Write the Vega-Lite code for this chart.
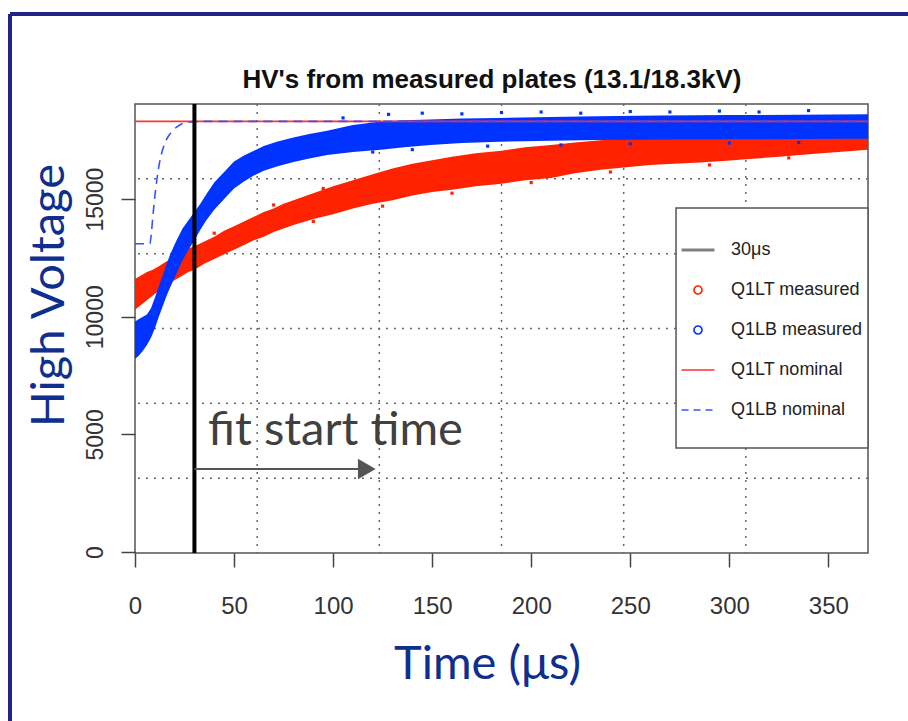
{
  "$schema": "https://vega.github.io/schema/vega-lite/v6.json",
  "width": 733,
  "height": 449,
  "autosize": "none",
  "padding": {"left": 135, "top": 104, "right": 40, "bottom": 168},
  "background": "white",
  "datasets": {
    "red": [
      {"t":0,"lo":10300,"hi":11600,"series":"Q1LT measured"},
      {"t":3,"lo":10500,"hi":11750,"series":"Q1LT measured"},
      {"t":6,"lo":10700,"hi":11900,"series":"Q1LT measured"},
      {"t":9,"lo":10900,"hi":12000,"series":"Q1LT measured"},
      {"t":12,"lo":11100,"hi":12150,"series":"Q1LT measured"},
      {"t":15,"lo":11250,"hi":12300,"series":"Q1LT measured"},
      {"t":18,"lo":11450,"hi":12450,"series":"Q1LT measured"},
      {"t":21,"lo":11600,"hi":12600,"series":"Q1LT measured"},
      {"t":24,"lo":11750,"hi":12750,"series":"Q1LT measured"},
      {"t":27,"lo":11900,"hi":12900,"series":"Q1LT measured"},
      {"t":30,"lo":12000,"hi":13000,"series":"Q1LT measured"},
      {"t":35,"lo":12250,"hi":13200,"series":"Q1LT measured"},
      {"t":40,"lo":12450,"hi":13400,"series":"Q1LT measured"},
      {"t":45,"lo":12650,"hi":13650,"series":"Q1LT measured"},
      {"t":50,"lo":12850,"hi":13850,"series":"Q1LT measured"},
      {"t":55,"lo":13050,"hi":14050,"series":"Q1LT measured"},
      {"t":60,"lo":13250,"hi":14250,"series":"Q1LT measured"},
      {"t":65,"lo":13400,"hi":14450,"series":"Q1LT measured"},
      {"t":70,"lo":13600,"hi":14600,"series":"Q1LT measured"},
      {"t":75,"lo":13750,"hi":14800,"series":"Q1LT measured"},
      {"t":80,"lo":13900,"hi":14950,"series":"Q1LT measured"},
      {"t":90,"lo":14150,"hi":15250,"series":"Q1LT measured"},
      {"t":100,"lo":14350,"hi":15550,"series":"Q1LT measured"},
      {"t":110,"lo":14600,"hi":15800,"series":"Q1LT measured"},
      {"t":120,"lo":14800,"hi":16050,"series":"Q1LT measured"},
      {"t":130,"lo":14950,"hi":16300,"series":"Q1LT measured"},
      {"t":140,"lo":15150,"hi":16500,"series":"Q1LT measured"},
      {"t":150,"lo":15300,"hi":16650,"series":"Q1LT measured"},
      {"t":160,"lo":15400,"hi":16800,"series":"Q1LT measured"},
      {"t":172,"lo":15550,"hi":16950,"series":"Q1LT measured"},
      {"t":185,"lo":15650,"hi":17050,"series":"Q1LT measured"},
      {"t":197,"lo":15800,"hi":17200,"series":"Q1LT measured"},
      {"t":210,"lo":15900,"hi":17300,"series":"Q1LT measured"},
      {"t":222,"lo":16100,"hi":17400,"series":"Q1LT measured"},
      {"t":235,"lo":16250,"hi":17500,"series":"Q1LT measured"},
      {"t":248,"lo":16350,"hi":17600,"series":"Q1LT measured"},
      {"t":260,"lo":16450,"hi":17650,"series":"Q1LT measured"},
      {"t":272,"lo":16500,"hi":17700,"series":"Q1LT measured"},
      {"t":285,"lo":16550,"hi":17700,"series":"Q1LT measured"},
      {"t":297,"lo":16620,"hi":17750,"series":"Q1LT measured"},
      {"t":310,"lo":16700,"hi":17750,"series":"Q1LT measured"},
      {"t":325,"lo":16800,"hi":17800,"series":"Q1LT measured"},
      {"t":340,"lo":16900,"hi":17800,"series":"Q1LT measured"},
      {"t":355,"lo":17000,"hi":17850,"series":"Q1LT measured"},
      {"t":370,"lo":17100,"hi":17850,"series":"Q1LT measured"}
    ],
    "blue": [
      {"t":0,"lo":8200,"hi":9800,"series":"Q1LB measured"},
      {"t":2,"lo":8350,"hi":9900,"series":"Q1LB measured"},
      {"t":4,"lo":8550,"hi":10000,"series":"Q1LB measured"},
      {"t":6,"lo":8800,"hi":10100,"series":"Q1LB measured"},
      {"t":8,"lo":9100,"hi":10350,"series":"Q1LB measured"},
      {"t":10,"lo":9500,"hi":10800,"series":"Q1LB measured"},
      {"t":12,"lo":10000,"hi":11300,"series":"Q1LB measured"},
      {"t":14,"lo":10450,"hi":11750,"series":"Q1LB measured"},
      {"t":16,"lo":10900,"hi":12250,"series":"Q1LB measured"},
      {"t":18,"lo":11300,"hi":12700,"series":"Q1LB measured"},
      {"t":21,"lo":11850,"hi":13250,"series":"Q1LB measured"},
      {"t":24,"lo":12400,"hi":13750,"series":"Q1LB measured"},
      {"t":27,"lo":12850,"hi":14100,"series":"Q1LB measured"},
      {"t":30,"lo":13250,"hi":14450,"series":"Q1LB measured"},
      {"t":33,"lo":13700,"hi":14800,"series":"Q1LB measured"},
      {"t":36,"lo":14100,"hi":15200,"series":"Q1LB measured"},
      {"t":40,"lo":14550,"hi":15700,"series":"Q1LB measured"},
      {"t":45,"lo":15000,"hi":16150,"series":"Q1LB measured"},
      {"t":50,"lo":15450,"hi":16600,"series":"Q1LB measured"},
      {"t":55,"lo":15750,"hi":16850,"series":"Q1LB measured"},
      {"t":60,"lo":16000,"hi":17050,"series":"Q1LB measured"},
      {"t":65,"lo":16200,"hi":17250,"series":"Q1LB measured"},
      {"t":72,"lo":16400,"hi":17450,"series":"Q1LB measured"},
      {"t":80,"lo":16580,"hi":17620,"series":"Q1LB measured"},
      {"t":88,"lo":16720,"hi":17760,"series":"Q1LB measured"},
      {"t":97,"lo":16870,"hi":17900,"series":"Q1LB measured"},
      {"t":110,"lo":17000,"hi":18150,"series":"Q1LB measured"},
      {"t":124,"lo":17100,"hi":18300,"series":"Q1LB measured"},
      {"t":136,"lo":17200,"hi":18350,"series":"Q1LB measured"},
      {"t":149,"lo":17300,"hi":18380,"series":"Q1LB measured"},
      {"t":165,"lo":17380,"hi":18420,"series":"Q1LB measured"},
      {"t":184,"lo":17440,"hi":18450,"series":"Q1LB measured"},
      {"t":210,"lo":17480,"hi":18490,"series":"Q1LB measured"},
      {"t":233,"lo":17510,"hi":18520,"series":"Q1LB measured"},
      {"t":265,"lo":17530,"hi":18550,"series":"Q1LB measured"},
      {"t":300,"lo":17540,"hi":18570,"series":"Q1LB measured"},
      {"t":335,"lo":17550,"hi":18580,"series":"Q1LB measured"},
      {"t":370,"lo":17560,"hi":18600,"series":"Q1LB measured"}
    ],
    "redSpecks": [
      {"t":40,"v":13550},{"t":70,"v":14750},{"t":95,"v":15450},
      {"t":90,"v":14050},{"t":125,"v":14700},{"t":160,"v":15250},
      {"t":200,"v":15700},{"t":240,"v":16150},{"t":290,"v":16450},{"t":330,"v":16750}
    ],
    "blueSpecks": [
      {"t":105,"v":18450},{"t":128,"v":18600},{"t":145,"v":18650},{"t":165,"v":18620},
      {"t":185,"v":18680},{"t":205,"v":18700},{"t":225,"v":18650},{"t":250,"v":18720},
      {"t":270,"v":18700},{"t":295,"v":18740},{"t":315,"v":18700},{"t":340,"v":18760},
      {"t":120,"v":17000},{"t":140,"v":17100},{"t":178,"v":17250},{"t":215,"v":17300},
      {"t":250,"v":17350},{"t":300,"v":17380},{"t":335,"v":17400}
    ],
    "redNominal": [{"t":0,"v":18300},{"t":370,"v":18300}],
    "blueNominal": [
      {"t":0,"v":13100},{"t":7.5,"v":13100},{"t":8.2,"v":13500},{"t":9,"v":14250},
      {"t":10,"v":15100},{"t":11,"v":15800},{"t":12.5,"v":16600},{"t":14.3,"v":17190},
      {"t":16,"v":17550},{"t":18.5,"v":17860},{"t":21,"v":18060},{"t":24.4,"v":18220},
      {"t":29.5,"v":18290},{"t":35,"v":18300},{"t":370,"v":18300}
    ],
    "gridX": [{"g":61.67},{"g":123.33},{"g":185},{"g":246.67},{"g":308.33}],
    "gridY": [{"g":3140},{"g":6320},{"g":9500},{"g":12680},{"g":15860}],
    "one": [{}]
  },
  "encoding": {
    "x": {
      "type": "quantitative",
      "scale": {"domain": [0, 370], "nice": false, "zero": false},
      "axis": {
        "values": [0, 50, 100, 150, 200, 250, 300, 350],
        "format": "d",
        "grid": false,
        "domain": false,
        "tickSize": 14,
        "tickWidth": 1.5,
        "tickColor": "#444444",
        "labelFont": "Liberation Sans",
        "labelFontSize": 24,
        "labelColor": "#333333",
        "labelBaseline": "alphabetic",
        "labelPadding": 46,
        "labelFlush": false,
        "title": "Time (μs)",
        "titleFont": "Lato",
        "titleFontSize": 47,
        "titleFontWeight": "normal",
        "titleColor": "#0E2F8E",
        "titleX": 352,
        "titleY": 125,
        "titleAlign": "center",
        "titleBaseline": "alphabetic"
      }
    },
    "y": {
      "type": "quantitative",
      "scale": {"domain": [-40, 19040], "nice": false, "zero": false},
      "axis": {
        "values": [0, 5000, 10000, 15000],
        "format": "d",
        "grid": false,
        "domain": false,
        "tickSize": 14,
        "tickWidth": 1.5,
        "tickColor": "#444444",
        "labelFont": "Liberation Sans",
        "labelFontSize": 23,
        "labelColor": "#333333",
        "labelAngle": 270,
        "labelAlign": "center",
        "labelBaseline": "alphabetic",
        "labelPadding": 19,
        "labelFlush": false,
        "title": "High Voltage",
        "titleFont": "Lato",
        "titleFontSize": 47,
        "titleFontWeight": "normal",
        "titleColor": "#0E2F8E",
        "titleAngle": 270,
        "titleX": -72,
        "titleY": 191,
        "titleAlign": "center",
        "titleBaseline": "alphabetic"
      }
    }
  },
  "layer": [
    {
      "data": {"name": "gridX"},
      "mark": {"type": "rule", "color": "#666666", "strokeWidth": 1.5, "strokeDash": [2, 6]},
      "encoding": {"x": {"field": "g", "type": "quantitative"}}
    },
    {
      "data": {"name": "gridY"},
      "mark": {"type": "rule", "color": "#666666", "strokeWidth": 1.5, "strokeDash": [2, 6]},
      "encoding": {"y": {"field": "g", "type": "quantitative"}}
    },
    {
      "data": {"name": "one"},
      "mark": {"type": "rect", "fill": "white", "stroke": "#555555", "strokeWidth": 1.5},
      "encoding": {
        "x": {"datum": 273.1, "type": "quantitative"},
        "x2": {"datum": 370},
        "y": {"datum": 14620, "type": "quantitative"},
        "y2": {"datum": 4422}
      }
    },
    {
      "data": {"name": "red"},
      "mark": {"type": "area", "opacity": 1},
      "encoding": {
        "x": {"field": "t", "type": "quantitative"},
        "y": {"field": "hi", "type": "quantitative"},
        "y2": {"field": "lo"},
        "color": {
          "field": "series",
          "type": "nominal",
          "scale": {
            "domain": ["30μs", "Q1LT measured", "Q1LB measured", "Q1LT nominal", "Q1LB nominal"],
            "range": ["#808080", "#FF2200", "#0033FF", "#FF3333", "#3355FF"]
          },
          "legend": {
            "orient": "none",
            "legendX": 554,
            "legendY": 137,
            "title": null,
            "padding": 0,
            "fillColor": null,
            "strokeColor": null,
            "symbolSize": 1089,
            "symbolOpacity": 1,
            "symbolFillColor": "transparent",
            "rowPadding": 22,
            "labelOffset": 24,
            "labelFont": "Liberation Sans",
            "labelFontSize": 18,
            "labelColor": "#222222",
            "labelLimit": 400,
            "encode": {
              "symbols": {
                "update": {
                  "shape": {"signal": "datum.value === '30μs' || datum.value === 'Q1LT nominal' || datum.value === 'Q1LB nominal' ? 'stroke' : 'circle'"},
                  "size": {"signal": "datum.value === '30μs' || datum.value === 'Q1LT nominal' || datum.value === 'Q1LB nominal' ? 1089 : 64"},
                  "strokeDash": {"signal": "datum.value === 'Q1LB nominal' ? [7, 5] : [1, 0]"},
                  "strokeWidth": {"signal": "datum.value === '30μs' ? 3 : 1.6"},
                  "fill": {"value": "transparent"},
                  "fillOpacity": {"value": 0},
                  "stroke": {"signal": "scale('color', datum.value)"},
                  "strokeOpacity": {"value": 1},
                  "opacity": {"value": 1}
                }
              }
            }
          }
        }
      }
    },
    {
      "data": {"name": "blue"},
      "mark": {"type": "area", "opacity": 1},
      "encoding": {
        "x": {"field": "t", "type": "quantitative"},
        "y": {"field": "hi", "type": "quantitative"},
        "y2": {"field": "lo"},
        "color": {"field": "series", "type": "nominal"}
      }
    },
    {
      "data": {"name": "redSpecks"},
      "mark": {"type": "square", "size": 10, "opacity": 1, "color": "#FF2200"},
      "encoding": {
        "x": {"field": "t", "type": "quantitative"},
        "y": {"field": "v", "type": "quantitative"}
      }
    },
    {
      "data": {"name": "blueSpecks"},
      "mark": {"type": "square", "size": 10, "opacity": 1, "color": "#0033FF"},
      "encoding": {
        "x": {"field": "t", "type": "quantitative"},
        "y": {"field": "v", "type": "quantitative"}
      }
    },
    {
      "data": {"name": "redNominal"},
      "mark": {"type": "line", "color": "#FF3333", "strokeWidth": 1.6},
      "encoding": {
        "x": {"field": "t", "type": "quantitative"},
        "y": {"field": "v", "type": "quantitative"}
      }
    },
    {
      "data": {"name": "blueNominal"},
      "mark": {"type": "line", "color": "#3355FF", "strokeWidth": 1.6, "strokeDash": [9, 6], "interpolate": "monotone"},
      "encoding": {
        "x": {"field": "t", "type": "quantitative"},
        "y": {"field": "v", "type": "quantitative"}
      }
    },
    {
      "data": {"name": "one"},
      "mark": {"type": "rule", "color": "#000000", "strokeWidth": 4},
      "encoding": {"x": {"datum": 30, "type": "quantitative"}}
    },
    {
      "data": {"name": "one"},
      "mark": {"type": "rule", "color": "#555555", "strokeWidth": 2},
      "encoding": {
        "x": {"datum": 30, "type": "quantitative"},
        "x2": {"datum": 114},
        "y": {"datum": 3530, "type": "quantitative"}
      }
    },
    {
      "data": {"name": "one"},
      "mark": {"type": "point", "shape": "triangle-right", "filled": true, "color": "#555555", "size": 420, "opacity": 1},
      "encoding": {
        "x": {"datum": 117, "type": "quantitative"},
        "y": {"datum": 3530, "type": "quantitative"}
      }
    },
    {
      "data": {"name": "one"},
      "mark": {"type": "text", "text": "fit start time", "font": "Lato", "fontSize": 47, "color": "#404040", "align": "left", "baseline": "alphabetic"},
      "encoding": {
        "x": {"datum": 36.9, "type": "quantitative"},
        "y": {"datum": 4550, "type": "quantitative"}
      }
    },
    {
      "data": {"name": "one"},
      "mark": {"type": "text", "text": "HV's from measured plates (13.1/18.3kV)", "font": "Liberation Sans", "fontSize": 26, "fontWeight": "bold", "color": "#111111", "align": "center", "baseline": "alphabetic"},
      "encoding": {
        "x": {"datum": 180.2, "type": "quantitative"},
        "y": {"datum": 19720, "type": "quantitative"}
      }
    },
    {
      "data": {"name": "one"},
      "mark": {"type": "rule", "color": "#22228A", "strokeWidth": 4},
      "encoding": {
        "x": {"datum": -63.1, "type": "quantitative"},
        "y": {"datum": 22865, "type": "quantitative"},
        "y2": {"datum": -7300}
      }
    },
    {
      "data": {"name": "one"},
      "mark": {"type": "rule", "color": "#22228A", "strokeWidth": 4},
      "encoding": {
        "x": {"datum": -63.1, "type": "quantitative"},
        "x2": {"datum": 400},
        "y": {"datum": 22865, "type": "quantitative"}
      }
    }
  ],
  "config": {
    "view": {"stroke": "#555555", "strokeWidth": 1.5}
  }
}
